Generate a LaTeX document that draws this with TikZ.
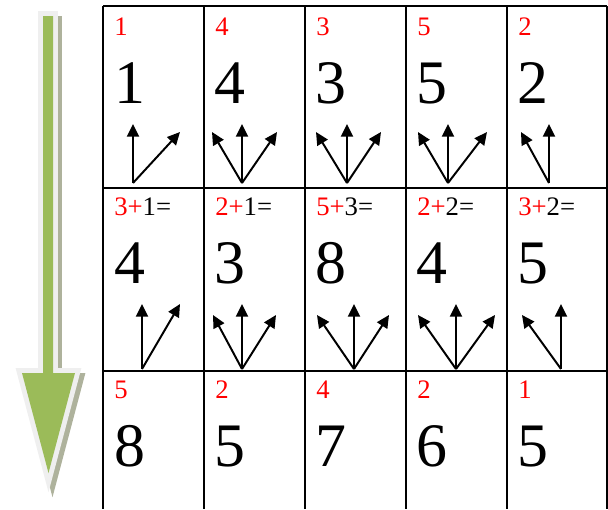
\documentclass[tikz,border=0pt]{standalone}
\usepackage{fontspec}
\setmainfont{Liberation Serif}
\usetikzlibrary{arrows.meta}

\definecolor{caolv}{HTML}{9BBB59}
\definecolor{qianhui}{HTML}{EFEFEF}
\definecolor{yingzi}{HTML}{AEB29C}

\tikzset{
  xiaozi/.style={anchor=base west, inner sep=0pt, text=red, font=\fontsize{19}{19}\selectfont},
  dazi/.style={anchor=base west, inner sep=0pt, font=\fontsize{44}{44}\selectfont},
  jian/.style={line width=1.4pt, -{Triangle[length=9pt,width=8.5pt]}}
}

\begin{document}
\begin{tikzpicture}[x=0.025cm, y=-0.025cm]

    \useasboundingbox (0,0) rectangle (608,509);

    % 左边的大箭头
    \filldraw[yingzi, line width=7pt, line join=miter, shift={(4,5)}]
      (43,16) -- (53,16) -- (53,373) -- (75,373) -- (48.5,473) -- (22,373) -- (43,373) -- cycle;
    \filldraw[qianhui, line width=7pt, line join=miter]
      (43,16) -- (53,16) -- (53,373) -- (75,373) -- (48.5,473) -- (22,373) -- (43,373) -- cycle;
    \fill[caolv]
      (43,16) -- (53,16) -- (53,373) -- (75,373) -- (48.5,473) -- (22,373) -- (43,373) -- cycle;

    % 画表格
    \draw[line width=0.9pt] (103,6) -- (607,6);
    \draw[line width=0.9pt] (103,188) -- (607,188);
    \draw[line width=0.9pt] (103,371) -- (607,371);
    \foreach \x in {103,204,305,406,507,607}
      \draw[line width=0.9pt] (\x,6) -- (\x,509);

    % 第一行
    \node[xiaozi] (a1) at (114,35) {1};
    \node[xiaozi] (a2) at (215,35) {4};
    \node[xiaozi] (a3) at (316,35) {3};
    \node[xiaozi] (a4) at (417,35) {5};
    \node[xiaozi] (a5) at (518,35) {2};
    \node[dazi] (A1) at (114,103) {1};
    \node[dazi] (A2) at (214,103) {4};
    \node[dazi] (A3) at (315,103) {3};
    \node[dazi] (A4) at (416,103) {5};
    \node[dazi] (A5) at (517,103) {2};

    % 第二行
    \node[xiaozi] (b1) at (114,215) {3+\textcolor{black}{1=}};
    \node[xiaozi] (b2) at (215,215) {2+\textcolor{black}{1=}};
    \node[xiaozi] (b3) at (316,215) {5+\textcolor{black}{3=}};
    \node[xiaozi] (b4) at (417,215) {2+\textcolor{black}{2=}};
    \node[xiaozi] (b5) at (518,215) {3+\textcolor{black}{2=}};
    \node[dazi] (B1) at (114,283) {4};
    \node[dazi] (B2) at (214,283) {3};
    \node[dazi] (B3) at (315,283) {8};
    \node[dazi] (B4) at (416,283) {4};
    \node[dazi] (B5) at (517,283) {5};

    % 第三行
    \node[xiaozi] (c1) at (114,398) {5};
    \node[xiaozi] (c2) at (215,398) {2};
    \node[xiaozi] (c3) at (316,398) {4};
    \node[xiaozi] (c4) at (417,398) {2};
    \node[xiaozi] (c5) at (518,398) {1};
    \node[dazi] (C1) at (114,466) {8};
    \node[dazi] (C2) at (214,466) {5};
    \node[dazi] (C3) at (315,466) {7};
    \node[dazi] (C4) at (416,466) {6};
    \node[dazi] (C5) at (517,466) {5};

    % 箭头的起点
    \coordinate (p1) at (133,183);
    \coordinate (p2) at (242,183);
    \coordinate (p3) at (347,183);
    \coordinate (p4) at (448,183);
    \coordinate (p5) at (549,183);
    \coordinate (q1) at (142,369);
    \coordinate (q2) at (242,369);
    \coordinate (q3) at (354,369);
    \coordinate (q4) at (456,369);
    \coordinate (q5) at (561,369);

    % 第一行的箭头
    \draw[jian] (p1) -- ++(0,-59);
    \draw[jian] (p1) -- ++(47,-51);
    \foreach \p/\l/\r in {p2/30/35, p3/31/34, p4/30/39} {
      \draw[jian] (\p) -- ++(-\l,-51);
      \draw[jian] (\p) -- ++(0,-59);
      \draw[jian] (\p) -- ++(\r,-51);
    }
    \draw[jian] (p5) -- ++(-28,-51);
    \draw[jian] (p5) -- ++(0,-59);

    % 第二行的箭头
    \draw[jian] (q1) -- ++(0,-65);
    \draw[jian] (q1) -- ++(38,-65);
    \foreach \q/\l/\r in {q2/29/34, q3/37/35, q4/38/39} {
      \draw[jian] (\q) -- ++(-\l,-54);
      \draw[jian] (\q) -- ++(0,-65);
      \draw[jian] (\q) -- ++(\r,-54);
    }
    \draw[jian] (q5) -- ++(-39,-54);
    \draw[jian] (q5) -- ++(0,-65);

\end{tikzpicture}
\end{document}
